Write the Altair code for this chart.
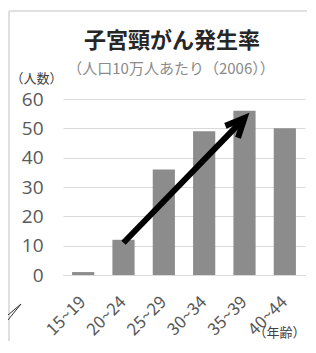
import altair as alt
import pandas as pd

ages = ["15~19", "20~24", "25~29", "30~34", "35~39", "40~44"]
rates = [1, 12, 36, 49, 56, 50]

arrow_from = ("20~24", 11)
arrow_to = ("35~39", 53.5)

title_text = "子宮頸がん発生率"
subtitle_text = "（人口10万人あたり（2006））"
y_title = "（人数）"
x_title = "（年齢）"

bars_df = pd.DataFrame({"age": ages, "rate": rates})
arrow_df = pd.DataFrame({"age": [arrow_from[0], arrow_to[0]], "rate": [arrow_from[1], arrow_to[1]]})
head_df = pd.DataFrame({"age": [arrow_to[0]], "rate": [arrow_to[1]]})
one = pd.DataFrame({"a": [0]})

JP = "Noto Sans CJK JP"
NUM = "Open Sans"

x_enc = alt.X(
    "age:N",
    sort=ages,
    scale=alt.Scale(paddingInner=0.45, paddingOuter=0.225),
    axis=alt.Axis(
        title=x_title,
        titleAngle=0,
        titleX=190,
        titleY=61,
        titleAlign="left",
        titleBaseline="alphabetic",
        titleFont=JP,
        titleFontSize=13,
        titleFontWeight="normal",
        titleColor="#404040",
        labelAngle=-45,
        labelAlign="right",
        labelBaseline="middle",
        labelPadding=24,
        labelFont=JP,
        labelFontSize=17,
        labelColor="#595959",
        labelOverlap=False,
        ticks=False,
        domain=True,
        domainColor="#d9d9d9",
        domainWidth=1,
        grid=False,
    ),
)
y_enc = alt.Y(
    "rate:Q",
    scale=alt.Scale(domain=[0, 60]),
    axis=alt.Axis(
        values=[0, 10, 20, 30, 40, 50, 60],
        title=y_title,
        titleAngle=0,
        titleX=-53,
        titleY=-17,
        titleAlign="left",
        titleBaseline="alphabetic",
        titleFont=JP,
        titleFontSize=13,
        titleFontWeight="normal",
        titleColor="#404040",
        labelFont=NUM,
        labelFontSize=19,
        labelColor="#595959",
        labelPadding=20,
        labelOverlap=False,
        ticks=False,
        domain=False,
        grid=True,
        gridColor="#d9d9d9",
        gridWidth=1,
    ),
)

bars = alt.Chart(bars_df).mark_bar(color="#8c8c8c").encode(x=x_enc, y=y_enc)

arrow_line = alt.Chart(arrow_df).mark_line(color="black", strokeWidth=6, strokeCap="butt").encode(
    x=x_enc, y=y_enc
)

arrow_head = alt.Chart(head_df).mark_point(
    shape="M-0.42,0.91L0,0L0.42,0.91",
    filled=False,
    stroke="black",
    strokeWidth=6,
    strokeJoin="miter",
    strokeCap="butt",
    size=1700,
    angle=43,
    opacity=1,
).encode(x=x_enc, y=y_enc)

title_mark = alt.Chart(one).mark_text(
    font=JP, fontSize=22, fontWeight="bold", color="#262626", align="center", baseline="alphabetic"
).encode(x=alt.value(109), y=alt.value(-51), text=alt.value(title_text))

subtitle_mark = alt.Chart(one).mark_text(
    font=JP, fontSize=15, color="#8a8a8a", align="center", baseline="alphabetic"
).encode(x=alt.value(108), y=alt.value(-25), text=alt.value(subtitle_text))

frame_top = alt.Chart(one).mark_rule(color="#e0e0e0", strokeWidth=2).encode(
    x=alt.value(-54), x2=alt.value(244), y=alt.value(-88)
)
frame_left = alt.Chart(one).mark_rule(color="#e0e0e0", strokeWidth=2).encode(
    x=alt.value(-54), y=alt.value(-88), y2=alt.value(260)
)
tail1 = alt.Chart(one).mark_rule(color="#333333", strokeWidth=1).encode(
    x=alt.value(-55), x2=alt.value(-42), y=alt.value(216), y2=alt.value(205)
)
tail2 = alt.Chart(one).mark_rule(color="#333333", strokeWidth=1).encode(
    x=alt.value(-55), x2=alt.value(-42), y=alt.value(221), y2=alt.value(205)
)

chart = alt.layer(
    frame_top, frame_left, tail1, tail2, title_mark, subtitle_mark, bars, arrow_line, arrow_head
).properties(
    width=242,
    height=176,
    autosize=alt.AutoSizeParams(type="none"),
    padding={"left": 55, "top": 91, "right": 3, "bottom": 66},
    background="white",
).configure_view(strokeWidth=0, stroke="transparent")

chart.save("out.html", embed_options={"renderer": "svg", "actions": False})
